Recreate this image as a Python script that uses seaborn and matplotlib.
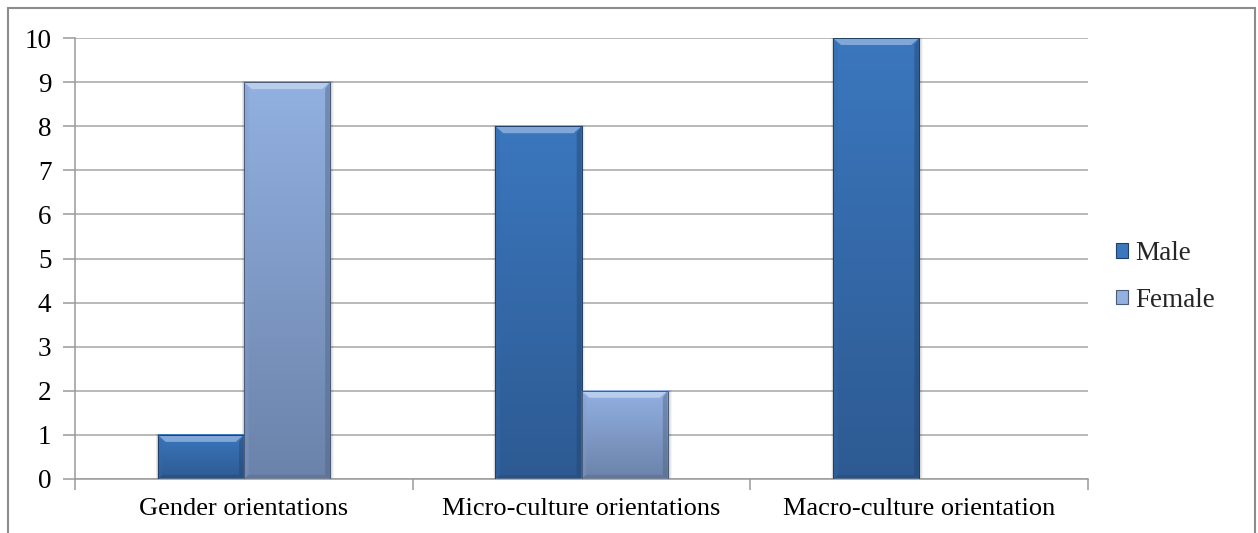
import numpy as np
import pandas as pd
import matplotlib
matplotlib.use("Agg")
import matplotlib.pyplot as plt
import seaborn as sns
from matplotlib.patches import Rectangle, Polygon, Patch
from matplotlib.colors import to_rgb

categories = ["Gender orientations", "Micro-culture orientations", "Macro-culture orientation"]
male = [1, 8, 10]
female = [9, 2, 0]
series = ["Male", "Female"]
y_ticks = list(range(0, 11))

df = pd.DataFrame({
    "category": categories * 2,
    "value": male + female,
    "series": ["Male"] * 3 + ["Female"] * 3,
})

# gradient endpoints (top, bottom) for each series
shades = {
    "Male": ("#3b77be", "#2d5a92"),
    "Female": ("#92b0e1", "#6b83aa"),
}

sns.set_theme(style="white")
plt.rcParams["font.family"] = ["Liberation Serif", "DejaVu Serif"]

fig = plt.figure(figsize=(12.58, 5.33), dpi=100)
ax = fig.add_axes([75 / 1258, 1 - 479 / 533, (1088 - 75) / 1258, (479 - 38) / 533])

sns.barplot(data=df, x="category", y="value", hue="series", hue_order=series,
            order=categories, width=0.51, palette=[shades[s][0] for s in series],
            ax=ax, legend=False, saturation=1)

ax.set_ylim(0, 10)
ax.set_xlim(-0.5, 2.5)

# per-pixel scale for bevel sizing
px_x = 1 / 338.0
px_y = 1 / 44.1


def blend(c, other, t):
    c = np.array(to_rgb(c)); o = np.array(to_rgb(other))
    return tuple(c * (1 - t) + o * t)


for container, s in zip(ax.containers, series):
    top_c, bot_c = shades[s]
    for bar in container:
        x, y = bar.get_x(), bar.get_y()
        w, h = bar.get_width(), bar.get_height()
        bar.set_facecolor("none")
        bar.set_edgecolor("none")
        if h <= 0:
            continue
        # soft drop shadow
        for k, a in [(4, 0.04), (3, 0.05), (2, 0.07)]:
            ax.add_patch(Rectangle((x - k * px_x * 0.5, y), w + k * px_x * 1.5, h + k * px_y * 0.3,
                                   facecolor="black", edgecolor="none", alpha=a, zorder=1.5))
        # vertical gradient body
        n = 256
        t = np.linspace(0, 1, n)[:, None]
        c1 = np.array(to_rgb(top_c)); c2 = np.array(to_rgb(bot_c))
        grad = (c1 * (1 - t[..., None]) + c2 * t[..., None])
        grad = np.repeat(grad, 4, axis=1)
        ax.imshow(grad, extent=[x, x + w, y, y + h], aspect="auto",
                  origin="upper", zorder=2, interpolation="bilinear")
        bx = 8 * px_x
        by = min(7 * px_y, h / 3)
        # top bevel (light)
        ax.add_patch(Polygon([(x, y + h), (x + w, y + h), (x + w - bx, y + h - by),
                              (x + bx, y + h - by)], closed=True,
                             facecolor=blend(top_c, "white", 0.35), edgecolor="none", zorder=3))
        # left bevel
        ax.add_patch(Polygon([(x, y), (x, y + h), (x + bx * 0.6, y + h - by), (x + bx * 0.6, y + by * 0.6)],
                             closed=True, facecolor=blend(top_c, "black", 0.1),
                             edgecolor="none", zorder=3, alpha=0.35))
        # right bevel (shadowed)
        ax.add_patch(Polygon([(x + w, y), (x + w, y + h), (x + w - bx * 0.6, y + h - by),
                              (x + w - bx * 0.6, y + by * 0.6)], closed=True,
                             facecolor=blend(bot_c, "black", 0.25), edgecolor="none",
                             zorder=3, alpha=0.45))
        # bottom bevel
        ax.add_patch(Polygon([(x, y), (x + w, y), (x + w - bx * 0.6, y + by * 0.6), (x + bx * 0.6, y + by * 0.6)],
                             closed=True, facecolor=blend(bot_c, "black", 0.2),
                             edgecolor="none", zorder=3, alpha=0.45))
        ax.add_patch(Rectangle((x, y), w, h, facecolor="none",
                               edgecolor=blend(bot_c, "black", 0.3), linewidth=0.7, zorder=4))

# horizontal gridlines
ax.yaxis.grid(True, color="#a6a6a6", linewidth=1.1)
ax.xaxis.grid(False)
ax.set_axisbelow(True)

for side in ["top", "right"]:
    ax.spines[side].set_visible(False)
for side in ["left", "bottom"]:
    ax.spines[side].set_color("#9a9a9a")
    ax.spines[side].set_linewidth(1.1)

ax.set_yticks(y_ticks)
ax.set_yticklabels([str(v) for v in y_ticks], fontsize=19.5, color="black")
ax.tick_params(axis="y", direction="out", length=9, width=1.1, color="#9a9a9a", pad=8, left=True)

# tick marks at category boundaries, labels at category centres
ax.set_xticks([-0.5, 0.5, 1.5, 2.5])
ax.set_xticklabels([])
ax.set_xticks([0, 1, 2], minor=True)
ax.set_xticklabels(categories, minor=True, fontsize=19, color="black")
ax.tick_params(axis="x", which="major", direction="out", length=8, width=1.1,
               color="#9a9a9a", bottom=True)
ax.tick_params(axis="x", which="minor", length=0, pad=14)
ax.set_xlabel("")
ax.set_ylabel("")

handles = [Patch(facecolor=shades[s][0], edgecolor=blend(shades[s][1], "black", 0.3),
                 linewidth=0.8) for s in series]
fig.legend(handles, series, loc="center left", bbox_to_anchor=(1116 / 1258, 1 - 277 / 533),
           frameon=False, fontsize=19.5, handlelength=0.45, handleheight=0.45,
           handletextpad=0.25, labelspacing=0.8, borderaxespad=0, borderpad=0)

# outer chart border
fig.add_artist(Rectangle((8 / 1258, -0.05), (1255 - 8) / 1258, 1.05 - 8 / 533,
                         transform=fig.transFigure, facecolor="none",
                         edgecolor="#8c8c8c", linewidth=1.5))

fig.savefig("out.png", dpi=100)
